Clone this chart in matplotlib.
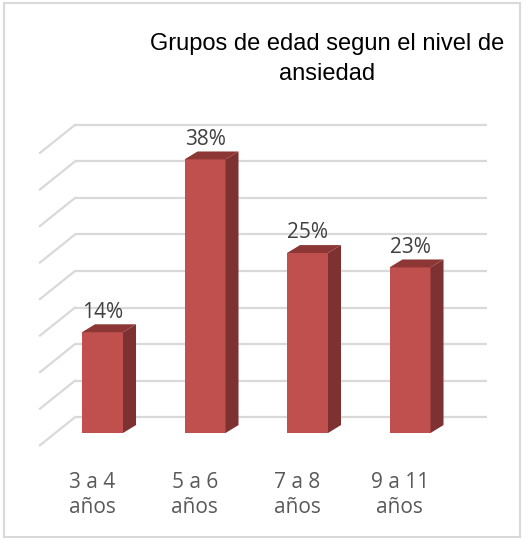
import matplotlib.pyplot as plt
from matplotlib.patches import Polygon, Rectangle

# chart data
categories = ["3 a 4\naños", "5 a 6\naños", "7 a 8\naños", "9 a 11\naños"]
values = [14, 38, 25, 23]
value_labels = ["14%", "38%", "25%", "23%"]
grid_ticks = [0, 5, 10, 15, 20, 25, 30, 35, 40]
title = "Grupos de edad segun el nivel de\nansiedad"

FRONT = "#c0504d"
SIDE = "#7d3130"
TOP = "#8c3735"
GRID = "#d9d9d9"

title_font = "Liberation Sans"
label_font = "Open Sans"

W, H = 525, 540
fig = plt.figure(figsize=(W / 100, H / 100), dpi=100)
ax = fig.add_axes([0, 0, 1, 1])
# one category = 102.5 px, one percent = 7.2 px
ax.set_xlim(-1.0, W / 102.5 - 1.0)
ax.set_ylim(-107 / 7.2, (H - 107) / 7.2)
ax.axis("off")

# depth offsets of the 3d look
bar_dx, bar_dy = 0.127, 1.1
wall_dx, wall_dy = 0.342, 3.9
half = 0.2

# back wall grid and side wall lines
for v in grid_ticks:
    yb = v * 1.015 + 2.2
    ax.plot([-0.268, 3.75], [yb, yb], color=GRID, lw=1.6, zorder=1, solid_capstyle="butt")
    ax.plot([-0.268, -0.268 - wall_dx], [yb, yb - wall_dy], color=GRID, lw=1.6, zorder=1)

x = list(range(len(values)))
ax.bar(x, values, width=2 * half, color=FRONT, zorder=3)

for xi, v, lab in zip(x, values, value_labels):
    side = [(xi + half, 0), (xi + half + bar_dx, bar_dy),
            (xi + half + bar_dx, v + bar_dy), (xi + half, v)]
    top = [(xi - half, v), (xi + half, v),
           (xi + half + bar_dx, v + bar_dy), (xi - half + bar_dx, v + bar_dy)]
    ax.add_patch(Polygon(side, closed=True, facecolor=SIDE, edgecolor="none", zorder=3))
    ax.add_patch(Polygon(top, closed=True, facecolor=TOP, edgecolor="none", zorder=3))
    ax.text(xi, v + 2.8, lab, ha="center", va="center", fontsize=15,
            color="#404040", family=label_font, zorder=4)

for xi, cat in zip(x, categories):
    ax.text(xi - 0.1, -8.6, cat, ha="center", va="center", fontsize=15,
            color="#595959", family=label_font, linespacing=1.3)

fig.text(327 / W, 1 - 59 / H, title, ha="center", va="center", fontsize=17,
         color="#000000", family=title_font, linespacing=1.45)

fig.patches.append(Rectangle((4 / W, 3 / H), 516 / W, 534 / H, transform=fig.transFigure,
                             facecolor="none", edgecolor=GRID, lw=1.5))

fig.savefig("out.png", dpi=100)
